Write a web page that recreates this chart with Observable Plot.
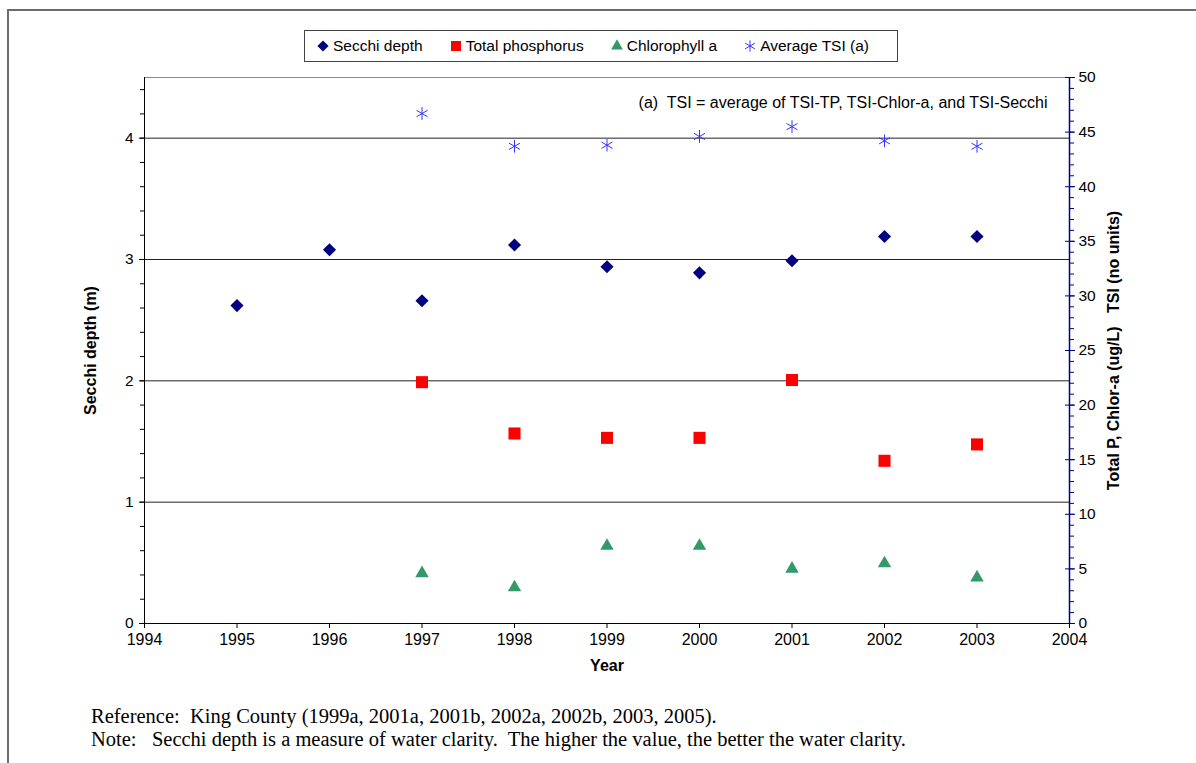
<!DOCTYPE html>
<html><head><meta charset="utf-8">
<script src="https://cdn.jsdelivr.net/npm/d3@7"></script>
<script src="https://cdn.jsdelivr.net/npm/@observablehq/plot@0.6"></script>
<style>
html,body{margin:0;padding:0;background:#fff;width:1196px;height:763px;overflow:hidden;font-family:"Liberation Sans",Arial,sans-serif;}
#frame{position:absolute;left:7px;top:9px;width:1300px;height:800px;border-left:2px solid #6b6b6b;border-top:2px solid #6b6b6b;}
#chart{position:absolute;left:0;top:0;}
#chart g[aria-label="y-axis tick label"], #chart g[aria-label="y-axis tick label"] text{font-size:15.5px !important;}
#chart g[aria-label="x-axis tick label"], #chart g[aria-label="x-axis tick label"] text{font-size:16px !important;}
#legend{position:absolute;left:304px;top:30px;width:594px;height:32px;box-sizing:border-box;border:1px solid #444;display:flex;align-items:center;padding-left:12px;font-size:15.5px;color:#000;}
.item{display:flex;align-items:center;margin-right:27px;white-space:nowrap;}
.item svg{margin-right:4px;}
#caption{position:absolute;left:91px;top:705px;font-family:"Liberation Serif","Times New Roman",serif;font-size:20.5px;line-height:23px;white-space:pre;color:#000;}
</style></head><body>
<div id="frame"></div>
<div id="chart"></div>
<div id="legend"></div>
<div id="caption"></div>
<script>
// ---- data ----
const secchiYears = [1995, 1996, 1997, 1998, 1999, 2000, 2001, 2002, 2003];
const secchiDepth = [2.62, 3.08, 2.66, 3.12, 2.94, 2.89, 2.99, 3.19, 3.19];
const nutrientYears = [1997, 1998, 1999, 2000, 2001, 2002, 2003];
const totalPhosphorus = [22.1, 17.4, 17.0, 17.0, 22.3, 14.9, 16.4];
const chlorophyllA = [4.6, 3.3, 7.1, 7.1, 5.0, 5.5, 4.2];
const averageTSI = [46.7, 43.7, 43.8, 44.6, 45.5, 44.2, 43.7];

const xTicks = [1994, 1995, 1996, 1997, 1998, 1999, 2000, 2001, 2002, 2003, 2004];
const leftTicks = [0, 1, 2, 3, 4];
const rightTicks = [0, 5, 10, 15, 20, 25, 30, 35, 40, 45, 50];
const legendLabels = ["Secchi depth", "Total phosphorus", "Chlorophyll a", "Average TSI (a)"];
const noteText = "(a)  TSI = average of TSI-TP, TSI-Chlor-a, and TSI-Secchi";
const leftTitle = "Secchi depth (m)";
const rightTitle = "Total P, Chlor-a (ug/L)   TSI (no units)";
const xTitle = "Year";
const captionLines = [
  "Reference:  King County (1999a, 2001a, 2001b, 2002a, 2002b, 2003, 2005).",
  "Note:   Secchi depth is a measure of water clarity.  The higher the value, the better the water clarity."
];

// ---- styles ----
const navy = "#000080", red = "#ff0000", green = "#339966", blue = "#3333ff";
const leftMax = 4.5, rightMax = 50, k = leftMax / rightMax;

const secchiData = secchiYears.map((year, i) => ({year, value: secchiDepth[i]}));
const tpData = nutrientYears.map((year, i) => ({year, value: totalPhosphorus[i] * k}));
const chlData = nutrientYears.map((year, i) => ({year, value: chlorophyllA[i] * k}));
const tsiData = nutrientYears.map((year, i) => ({year, value: averageTSI[i] * k}));

const leftMinor = d3.range(0, 23).map(i => i / 5);
const rightMinor = d3.range(0, 51).map(v => v * k);
const rightMajor = rightTicks.map(v => v * k);

const font = "Liberation Sans, Arial, sans-serif";

const chart = Plot.plot({
  width: 1196, height: 700,
  marginTop: 77, marginBottom: 77, marginLeft: 144, marginRight: 127,
  style: {fontFamily: font, fontSize: "15px", color: "#000", background: "transparent", overflow: "visible"},
  x: {domain: [1994, 2004]},
  y: {domain: [0, leftMax]},
  marks: [
    Plot.ruleY(leftTicks.filter(d => d > 0), {stroke: "#222", strokeWidth: 1}),
    Plot.ruleY([leftMax], {stroke: "#888", strokeWidth: 1}),
    Plot.ruleX([1994], {stroke: "#000", strokeWidth: 1}),
    Plot.ruleY([0], {stroke: "#000", strokeWidth: 1}),
    Plot.ruleX([2004], {stroke: navy, strokeWidth: 1.5}),
    Plot.axisY(leftMinor, {anchor: "left", tickSize: 4, fill: "none", label: null}),
    Plot.axisY(leftTicks, {anchor: "left", tickSize: 5, tickPadding: 6, fontSize: 15.5, tickFormat: d => String(d), label: null}),
    Plot.axisX(xTicks, {anchor: "bottom", tickSize: 5, tickPadding: 5, fontSize: 16, tickFormat: d => String(d), label: null}),
    Plot.axisY(rightMinor, {anchor: "right", tickSize: 4, fill: "none", stroke: navy, label: null}),
    Plot.axisY(rightMajor, {anchor: "right", tickSize: 10, dx: -5, fill: "none", stroke: navy, label: null}),
    Plot.axisY(rightMajor, {anchor: "right", tickSize: 0, tickPadding: 9, fontSize: 15.5, tickFormat: d => String(Math.round(d / k)), label: null}),
    Plot.text([leftTitle], {frameAnchor: "left", rotate: -90, dx: -54, textAnchor: "middle", fontWeight: "bold", fontSize: 16}),
    Plot.text([rightTitle], {frameAnchor: "right", rotate: -90, dx: 44, textAnchor: "middle", fontWeight: "bold", fontSize: 16}),
    Plot.text([xTitle], {frameAnchor: "bottom", dy: 47, fontWeight: "bold", fontSize: 16}),
    Plot.text([noteText], {frameAnchor: "top-right", dx: -22, dy: 19, textAnchor: "end", fontSize: 16}),
    Plot.dot(secchiData, {x: "year", y: "value", symbol: "diamond2", r: 5.9, fill: navy, stroke: "none"}),
    Plot.dot(tpData, {x: "year", y: "value", symbol: "square", r: 6.8, fill: red, stroke: "none"}),
    Plot.dot(chlData, {x: "year", y: "value", symbol: "triangle", r: 5, fill: green, stroke: "none"}),
    Plot.dot(tsiData, {x: "year", y: "value", symbol: "asterisk", r: 6, stroke: blue, strokeWidth: 1, fill: "none"})
  ]
});
document.getElementById("chart").appendChild(chart);

// ---- legend ----
const legendSymbols = [
  {type: d3.symbolDiamond2, size: 80, fill: navy, stroke: "none"},
  {type: d3.symbolSquare, size: 100, fill: red, stroke: "none"},
  {type: d3.symbolTriangle, size: 60, fill: green, stroke: "none"},
  {type: d3.symbolAsterisk, size: 90, fill: "none", stroke: blue}
];
const legend = d3.select("#legend");
legendLabels.forEach((label, i) => {
  const s = legendSymbols[i];
  const item = legend.append("div").attr("class", "item");
  const svg = item.append("svg").attr("width", 12).attr("height", 14).attr("viewBox", "-6 -7 12 14");
  svg.append("path").attr("d", d3.symbol(s.type, s.size)()).attr("fill", s.fill).attr("stroke", s.stroke).attr("stroke-width", 1);
  item.append("span").text(label);
});

// ---- caption ----
const cap = d3.select("#caption");
captionLines.forEach(t => cap.append("div").text(t));
</script>
</body></html>
